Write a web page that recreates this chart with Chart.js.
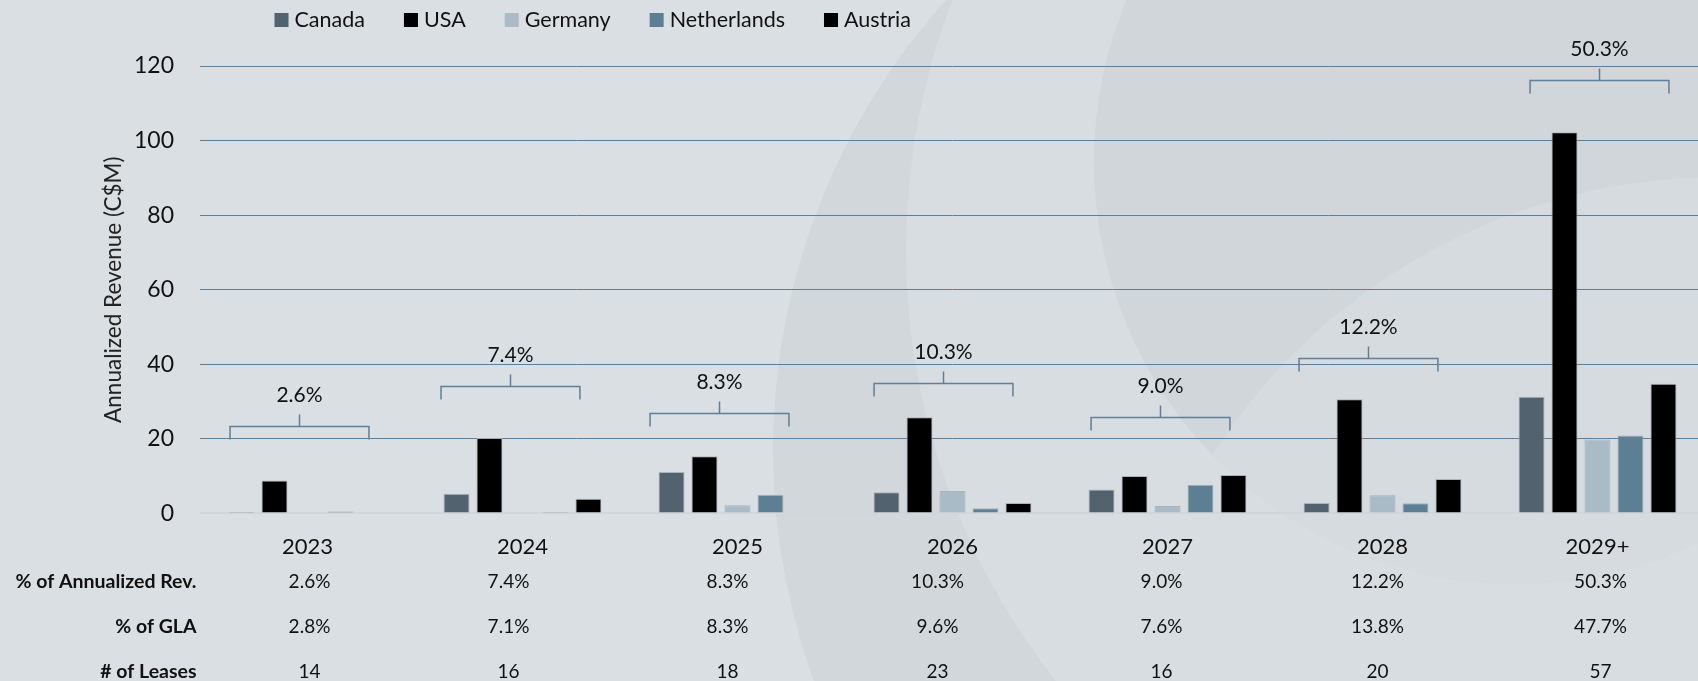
<!DOCTYPE html>
<html>
<head>
<meta charset="utf-8">
<title>Lease Expiry Profile</title>
<script src="https://cdn.jsdelivr.net/npm/chart.js@4.4.1/dist/chart.umd.min.js"></script>
<style>
    html, body { margin: 0; padding: 0; background: #dadfe3; overflow: hidden; }
    #wrap { position: relative; width: 1705px; height: 681px; }
</style>
</head>
<body>
<div id="wrap"><canvas id="expiryChart" width="1705" height="681"></canvas></div>
<script>
// Annualized revenue expiring per year, by country (C$M)
const years = ['2023', '2024', '2025', '2026', '2027', '2028', '2029+'];

const canada      = [0.4, 5.3, 11.1, 5.7, 6.4, 2.8, 31.3];
const usa         = [8.8, 20.2, 15.3, 25.8, 10.0, 30.6, 102.2];
const germany     = [0, 0, 2.2, 6.0, 2.0, 4.9, 19.8];
const netherlands = [0.5, 0.4, 5.0, 1.4, 7.7, 2.7, 20.9];
const austria     = [0, 3.9, 0, 2.8, 10.3, 9.2, 34.8];

// Table rows under the chart
const revShare   = ['2.6%', '7.4%', '8.3%', '10.3%', '9.0%', '12.2%', '50.3%'];
const glaShare   = ['2.8%', '7.1%', '8.3%', '9.6%', '7.6%', '13.8%', '47.7%'];
const leaseCount = ['14', '16', '18', '23', '16', '20', '57'];

const yTicks = [0, 20, 40, 60, 80, 100, 120];

// Layout bits: bracket heights (in C$M) and small horizontal nudges (px)
const bracketLevel = [23.4, 34.3, 26.8, 35.0, 25.8, 41.7, 116.3];
const bracketShift = [-9, -13, -19, -10, -8, -15, 1];
const tableShift   = [2, -14, -10, -15, -6, -5, 3];

const FONT = 'Lato, "Open Sans", sans-serif';

const colors = {
    canada: '#52626e',
    usa: '#000000',
    germany: '#a8bbc6',
    netherlands: '#5d7f94',
    austria: '#000000',
    barEdge: 'rgba(165,174,182,0.9)',
    grid: '#5f7f98',
    zeroLine: '#d3d6d9',
    bracket: '#5f7f98',
    text: '#111111',
    bg: '#dadfe3'
};

/**
 * Soft circular shapes in the slide background
 */
const backdropPlugin = {
    id: 'backdrop',
    beforeDraw(chart) {
        const { ctx, width, height } = chart;
        const disk = (x, y, r, c) => {
            ctx.beginPath();
            ctx.arc(x, y, r, 0, Math.PI * 2);
            ctx.fillStyle = c;
            ctx.fill();
        };
        ctx.save();
        ctx.fillStyle = colors.bg;
        ctx.fillRect(0, 0, width, height);
        disk(1445, 450, 672, '#d2d7db');
        ctx.beginPath();
        ctx.arc(1445, 450, 672, 0, Math.PI * 2);
        ctx.clip();
        disk(1601, 250, 695, '#d8dde1');
        disk(1516, 162, 422, '#d1d6da');
        ctx.beginPath();
        ctx.arc(1516, 162, 422, 0, Math.PI * 2);
        ctx.clip();
        disk(1720, 780, 603, '#d6dbe0');
        ctx.restore();
    }
};

/**
 * Legend row at the top
 */
const legendPlugin = {
    id: 'topLegend',
    afterDraw(chart) {
        const ctx = chart.ctx;
        ctx.save();
        ctx.font = `21.5px ${FONT}`;
        ctx.textBaseline = 'middle';
        let x = 274.5;
        chart.data.datasets.forEach(ds => {
            ctx.fillStyle = ds.backgroundColor;
            ctx.fillRect(x, 13, 14, 14);
            x += 20;
            ctx.fillStyle = colors.text;
            ctx.fillText(ds.label, x, 20.5);
            x += ctx.measureText(ds.label).width + 39;
        });
        ctx.restore();
    }
};

/**
 * Brackets with share of revenue above each year
 */
const bracketPlugin = {
    id: 'brackets',
    afterDatasetsDraw(chart) {
        const { ctx, scales: { x, y } } = chart;
        const half = x.width / years.length * 0.323;
        ctx.save();
        ctx.strokeStyle = colors.bracket;
        ctx.lineWidth = 1.5;
        ctx.font = `21px ${FONT}`;
        ctx.fillStyle = colors.text;
        ctx.textAlign = 'center';
        ctx.textBaseline = 'middle';
        years.forEach((_, i) => {
            const cx = Math.round(x.getPixelForValue(i) + bracketShift[i]) + 0.5;
            const cy = Math.round(y.getPixelForValue(bracketLevel[i])) + 0.5;
            ctx.beginPath();
            ctx.moveTo(cx - half, cy + 13);
            ctx.lineTo(cx - half, cy);
            ctx.lineTo(cx + half, cy);
            ctx.lineTo(cx + half, cy + 13);
            ctx.moveTo(cx, cy);
            ctx.lineTo(cx, cy - 12);
            ctx.stroke();
            ctx.fillText(revShare[i], cx, cy - 31);
        });
        ctx.restore();
    }
};

/**
 * Table under the x axis
 */
const tablePlugin = {
    id: 'leaseTable',
    afterDraw(chart) {
        const { ctx, chartArea, scales: { x } } = chart;
        const rows = [
            ['% of Annualized Rev.', revShare],
            ['% of GLA', glaShare],
            ['# of Leases', leaseCount]
        ];
        ctx.save();
        ctx.textBaseline = 'middle';
        ctx.fillStyle = colors.text;
        rows.forEach(([label, values], r) => {
            const y = chartArea.bottom + 68.3 + r * 44.9;
            ctx.font = `bold 19.5px ${FONT}`;
            ctx.textAlign = 'right';
            ctx.fillText(label, chartArea.left - 3.5, y);
            ctx.font = `19px ${FONT}`;
            ctx.textAlign = 'center';
            values.forEach((v, i) => ctx.fillText(v, x.getPixelForValue(i) + tableShift[i], y));
        });
        ctx.restore();
    }
};

function bar(label, data, color) {
    return {
        label,
        data,
        backgroundColor: color,
        borderColor: colors.barEdge,
        borderWidth: 1,
        categoryPercentage: 0.767,
        barPercentage: 0.79
    };
}

new Chart(document.getElementById('expiryChart'), {
    type: 'bar',
    data: {
        labels: years,
        datasets: [
            bar('Canada', canada, colors.canada),
            bar('USA', usa, colors.usa),
            bar('Germany', germany, colors.germany),
            bar('Netherlands', netherlands, colors.netherlands),
            bar('Austria', austria, colors.austria)
        ]
    },
    options: {
        responsive: false,
        animation: false,
        layout: { padding: { top: 66, left: 0, right: 0, bottom: 0 } },
        plugins: {
            legend: { display: false },
            tooltip: { enabled: false }
        },
        scales: {
            x: {
                grid: { display: false },
                border: { display: false },
                ticks: {
                    color: colors.text,
                    font: { family: FONT, size: 22 },
                    padding: 12
                },
                afterFit: (scale) => { scale.height = 167.6; }
            },
            y: {
                min: 0,
                max: 120,
                afterBuildTicks: (scale) => { scale.ticks = yTicks.map(v => ({ value: v })); },
                grid: {
                    drawTicks: false,
                    color: (c) => (c.tick && c.tick.value === 0 ? colors.zeroLine : colors.grid),
                    lineWidth: (c) => (c.tick && c.tick.value === 0 ? 2 : 1)
                },
                border: { display: false },
                ticks: {
                    color: colors.text,
                    font: { family: FONT, size: 23 },
                    padding: 26
                },
                title: {
                    display: true,
                    text: 'Annualized Revenue (C$M)',
                    color: '#222222',
                    font: { family: FONT, size: 22.5 },
                    padding: { top: 100, bottom: 0 }
                },
                afterFit: (scale) => { scale.width = 200; }
            }
        }
    },
    plugins: [backdropPlugin, legendPlugin, bracketPlugin, tablePlugin]
});
</script>
</body>
</html>
